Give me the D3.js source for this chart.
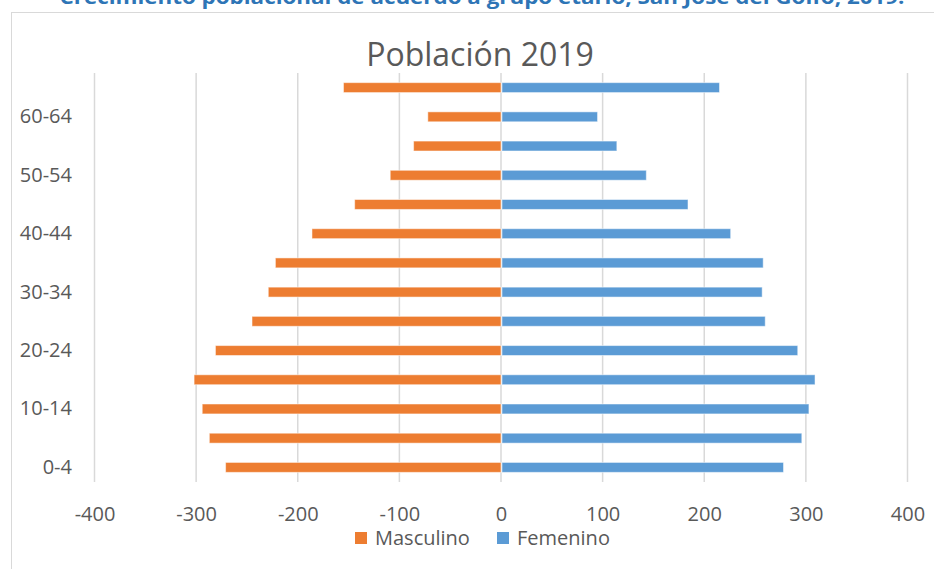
<!DOCTYPE html>
<html>
<head>
<meta charset="utf-8">
<script src="https://cdn.jsdelivr.net/npm/d3@7"></script>
<style>
  body { margin: 0; background: #fff; }
  svg { display: block; font-family: "Open Sans", sans-serif; }
</style>
</head>
<body>
<div id="chart"></div>
<script>
// age groups, bottom to top
var grupos = ["0-4", "5-9", "10-14", "15-19", "20-24", "25-29", "30-34",
              "35-39", "40-44", "45-49", "50-54", "55-59", "60-64", "65+"];
var masculino = [-271, -287, -294, -302, -281, -245, -229,
                 -222, -186, -144, -109, -86, -72, -155];
var femenino = [278, 296, 303, 309, 292, 260, 257,
                258, 226, 184, 143, 114, 95, 215];
var xTicks = [-400, -300, -200, -100, 0, 100, 200, 300, 400];
var yLabels = ["0-4", "10-14", "20-24", "30-34", "40-44", "50-54", "60-64"];
var series = ["Masculino", "Femenino"];
var colores = ["#ED7D31", "#5B9BD5"];

var width = 934, height = 569;

var svg = d3.select("#chart")
        .append("svg")
        .attr("width", width)
        .attr("height", height);

// document heading, cut by the page edge
svg.append("text")
        .attr("x", 482)
        .attr("y", 4)
        .attr("text-anchor", "middle")
        .attr("font-size", 19)
        .attr("font-weight", "bold")
        .attr("fill", "#2E75B6")
        .attr("textLength", 845)
        .attr("lengthAdjust", "spacingAndGlyphs")
        .text("Crecimiento poblacional de acuerdo a grupo etario, San José del Golfo, 2019.");

// chart frame
svg.append("rect")
        .attr("x", 11.5)
        .attr("y", 12.5)
        .attr("width", 1000)
        .attr("height", 700)
        .attr("fill", "#fff")
        .attr("stroke", "#d9d9d9");

svg.append("text")
        .attr("x", 480)
        .attr("y", 66)
        .attr("text-anchor", "middle")
        .attr("font-size", 32)
        .attr("fill", "#595959")
        .text("Población 2019");

var x = d3.scaleLinear()
        .domain([-400, 400])
        .range([94.5, 907.5]);

var y = d3.scaleBand()
        .domain(grupos.slice().reverse())
        .range([73, 482])
        .paddingInner(0.66)
        .paddingOuter(0.33);

// gridlines
svg.append("g")
        .selectAll("line")
        .data(xTicks)
        .enter()
        .append("line")
        .attr("x1", function (d) { return x(d); })
        .attr("x2", function (d) { return x(d); })
        .attr("y1", 73)
        .attr("y2", 482)
        .attr("stroke", "#d9d9d9")
        .attr("stroke-width", 1.5);

var rows = grupos.map(function (g, i) {
    return {grupo: g, m: masculino[i], f: femenino[i]};
});

svg.append("g")
        .selectAll("rect")
        .data(rows)
        .enter()
        .append("rect")
        .attr("x", function (d) { return x(d.m); })
        .attr("y", function (d) { return y(d.grupo); })
        .attr("width", function (d) { return x(0) - x(d.m); })
        .attr("height", y.bandwidth())
        .attr("fill", colores[0])
        .attr("stroke", "#fff")
        .attr("stroke-opacity", 0.5);

svg.append("g")
        .selectAll("rect")
        .data(rows)
        .enter()
        .append("rect")
        .attr("x", x(0) + 1)
        .attr("y", function (d) { return y(d.grupo); })
        .attr("width", function (d) { return x(d.f) - x(0) - 1; })
        .attr("height", y.bandwidth())
        .attr("fill", colores[1])
        .attr("stroke", "#fff")
        .attr("stroke-opacity", 0.5);

// axes
var xAxis = svg.append("g")
        .attr("transform", "translate(0,482)")
        .call(d3.axisBottom(x)
                .tickValues(xTicks)
                .tickSize(0)
                .tickPadding(25)
                .tickFormat(function (d) { return String(d); }));

var yAxis = svg.append("g")
        .attr("transform", "translate(80,0)")
        .call(d3.axisLeft(y)
                .tickValues(yLabels)
                .tickSize(0)
                .tickPadding(8));

[xAxis, yAxis].forEach(function (a) {
    a.select(".domain").remove();
    a.selectAll("text")
            .attr("font-family", "Open Sans, sans-serif")
            .attr("font-size", 20)
            .attr("fill", "#595959");
});

// legend
var legend = svg.append("g")
        .selectAll("g")
        .data(series)
        .enter()
        .append("g")
        .attr("transform", function (d, i) {
            return "translate(" + [355, 497][i] + ",532)";
        });

legend.append("rect")
        .attr("width", 12)
        .attr("height", 12)
        .attr("fill", function (d, i) { return colores[i]; });

legend.append("text")
        .attr("x", 20)
        .attr("y", 12.5)
        .attr("font-size", 20)
        .attr("fill", "#595959")
        .text(function (d) { return d; });
</script>
</body>
</html>
